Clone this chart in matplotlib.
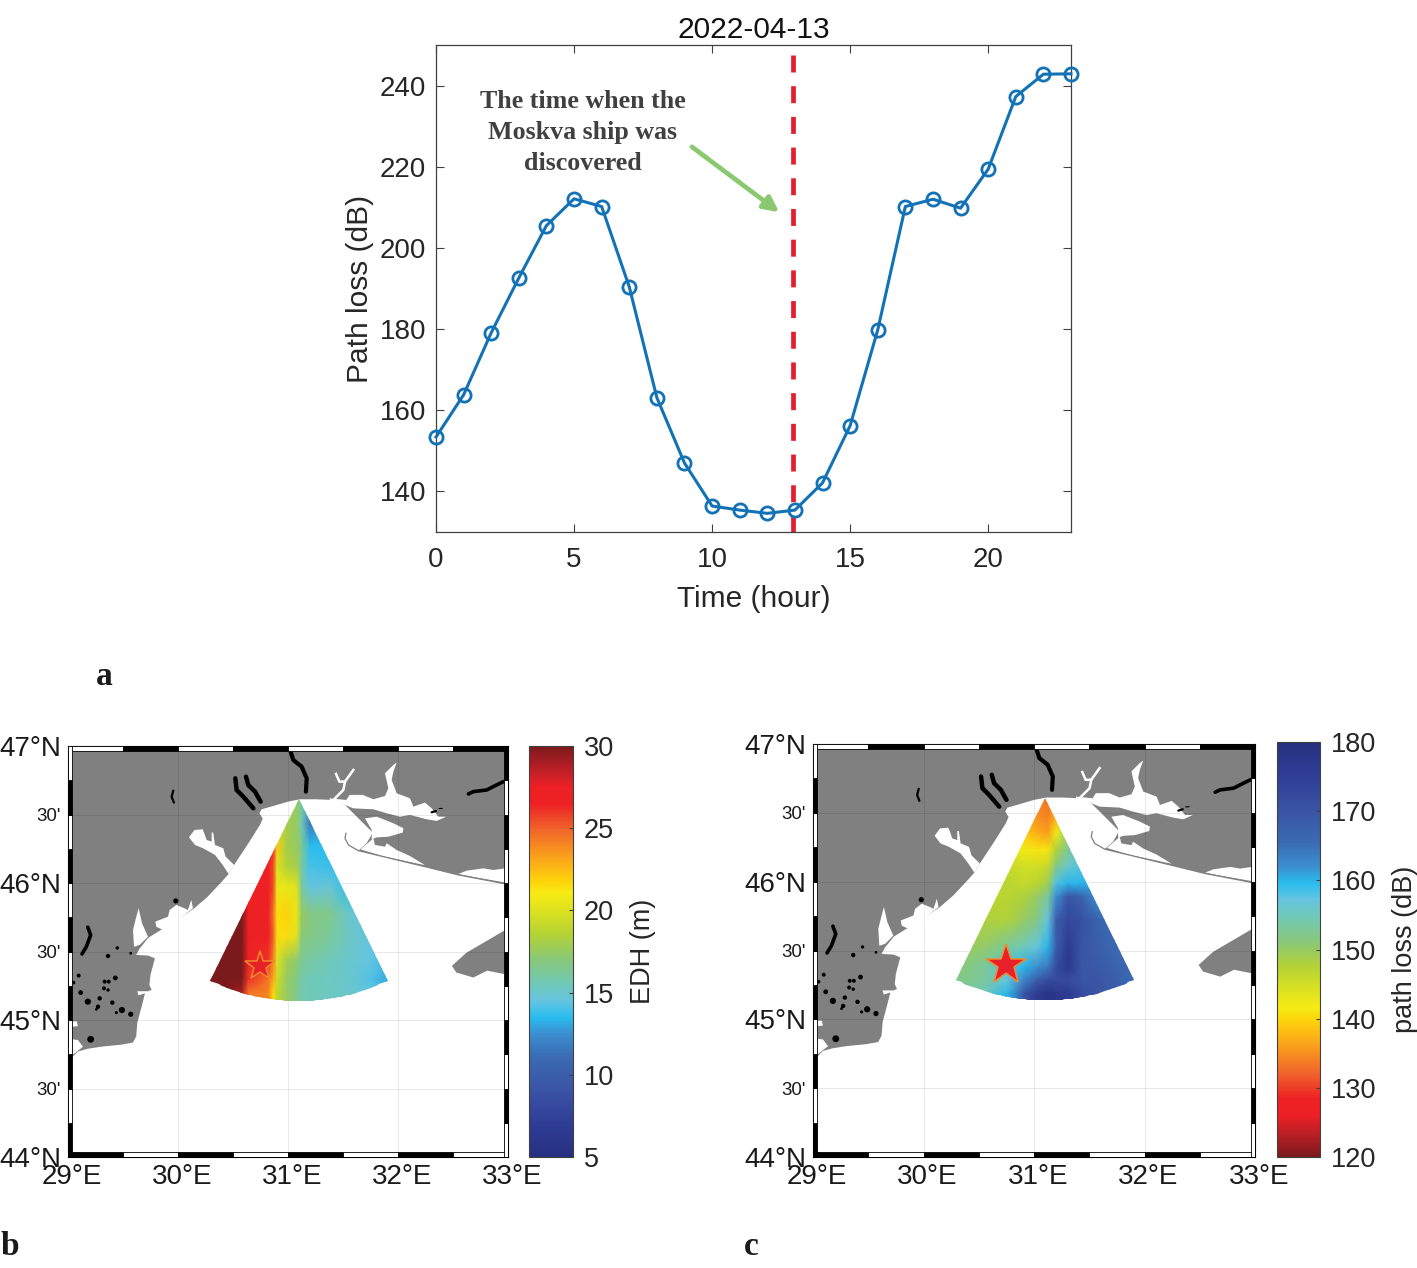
import numpy as np
import matplotlib
matplotlib.use('Agg')
import matplotlib.pyplot as plt
from matplotlib.colors import LinearSegmentedColormap
from matplotlib.patches import Polygon, Rectangle
from matplotlib.cm import ScalarMappable
from matplotlib.colors import Normalize
from matplotlib.transforms import ScaledTranslation

plt.rcParams['font.family'] = ['Liberation Sans', 'DejaVu Sans']

W, H = 1417, 1268

# panel a
hours = list(range(24))
path_loss = [153.4, 163.8, 179.1, 192.6, 205.5, 212.1, 210.2, 190.4, 163.1, 147.0, 136.4, 135.4,
             134.6, 135.4, 142.1, 156.2, 179.8, 210.2, 212.0, 209.8, 219.4, 237.3, 242.8, 242.9]
found_hour = 12.93

# land outline, lon/lat
land_lon = [29.0, 29.04, 29.09, 29.18, 29.30, 29.485, 29.59, 29.62, 29.63, 29.67, 29.70, 29.64, 29.63, 29.73, 29.76,
            29.74, 29.75, 29.79, 29.73, 29.62, 29.65, 29.73, 29.85, 29.97, 30.14, 30.27, 30.41, 30.46, 30.51, 30.64,
            30.745, 30.77, 30.74, 30.76, 30.866, 31.0, 31.109, 31.26, 31.41, 31.518, 31.77, 31.715, 31.64, 32.246,
            32.549, 33.0, 33.0, 29.0]
land_lat = [44.72, 44.73, 44.77, 44.79, 44.805, 44.82, 44.835, 44.88, 44.98, 45.10, 45.195, 45.18, 45.21, 45.21, 45.22,
            45.255, 45.33, 45.45, 45.47, 45.475, 45.52, 45.60, 45.66, 45.72, 45.81, 45.90, 46.02, 46.066, 46.132, 46.29,
            46.424, 46.47, 46.509, 46.538, 46.562, 46.594, 46.611, 46.611, 46.606, 46.57, 46.368, 46.29, 46.236, 46.119,
            46.059, 45.99, 47.0, 47.0]

crimea_lon = [33.0, 32.96, 32.78, 32.62, 32.49, 32.53, 32.685, 32.81, 33.0]
crimea_lat = [45.66, 45.65, 45.565, 45.49, 45.395, 45.347, 45.31, 45.36, 45.33]

# white water bodies on the land, lon/lat
water = [
    ([30.10, 30.15, 30.224, 30.239, 30.26, 30.306, 30.306, 30.32, 30.336, 30.412, 30.433, 30.51, 30.46, 30.406, 30.336, 30.23, 30.154],
     [46.334, 46.387, 46.392, 46.363, 46.314, 46.302, 46.368, 46.368, 46.278, 46.253, 46.192, 46.132, 46.066, 46.132, 46.205, 46.253, 46.278]),
    ([29.642, 29.673, 29.727, 29.652, 29.60, 29.591, 29.621],
     [45.815, 45.706, 45.608, 45.548, 45.535, 45.657, 45.754]),
    ([29.794, 29.909, 29.924, 29.985, 30.06, 30.09, 30.121, 30.136, 30.0, 29.864, 29.803],
     [45.718, 45.754, 45.803, 45.84, 45.815, 45.803, 45.876, 45.815, 45.73, 45.657, 45.681]),
    ([31.38, 31.53, 31.56, 31.68, 31.776, 31.882, 31.912, 31.882, 31.958, 31.988, 31.958, 31.942, 31.988, 32.109, 32.14,
      32.246, 32.306, 32.367, 32.437, 32.352, 32.261, 32.109, 32.018, 31.897, 31.776, 31.594, 31.518, 31.38],
     [46.618, 46.606, 46.643, 46.643, 46.611, 46.635, 46.691, 46.801, 46.862, 46.879, 46.813, 46.752, 46.655, 46.618, 46.557,
      46.587, 46.545, 46.484, 46.484, 46.453, 46.465, 46.497, 46.484, 46.509, 46.538, 46.545, 46.57, 46.606]),
    ([31.70, 31.806, 31.958, 32.049, 32.043, 31.912, 31.806, 31.761, 31.761],
     [46.472, 46.484, 46.436, 46.40, 46.368, 46.338, 46.333, 46.319, 46.387]),
    ([31.68, 31.776, 31.79, 31.882, 31.897, 31.988, 32.109, 32.246, 31.867, 31.66],
     [46.26, 46.326, 46.278, 46.265, 46.29, 46.241, 46.197, 46.13, 46.195, 46.245]),
    ([32.549, 32.624, 32.776, 32.867, 33.0, 33.0, 32.715],
     [46.066, 46.09, 46.107, 46.095, 46.11, 46.0, 46.04]),
    ([29.042, 29.09, 29.136, 29.09, 29.042],
     [44.859, 44.854, 44.805, 44.776, 44.745]),
    ([29.02, 29.08, 29.09, 29.03], [44.99, 44.99, 44.955, 44.95]),
]
creek_lon = [[31.437, 31.467, 31.518, 31.594], [31.518, 31.503, 31.427]]
creek_lat = [[46.796, 46.74, 46.74, 46.825], [46.74, 46.679, 46.618]]

spit_lon = [31.527, 31.518, 31.549, 31.64, 32.246, 32.549, 33.0]
spit_lat = [46.363, 46.326, 46.278, 46.236, 46.119, 46.059, 45.99]

# black lakes
lakes = [
    ([29.957, 29.942, 29.963], [46.674, 46.63, 46.587], 1.6),
    ([30.521, 30.533, 30.594, 30.685], [46.764, 46.679, 46.63, 46.545], 3.2),
    ([30.618, 30.639, 30.70, 30.751], [46.776, 46.715, 46.667, 46.594], 3.2),
    ([31.024, 31.048, 31.124, 31.17, 31.163], [46.959, 46.898, 46.849, 46.764, 46.667], 3.0),
    ([32.64, 32.685, 32.806, 32.897, 32.958], [46.65, 46.667, 46.679, 46.716, 46.74], 2.6),
    ([32.306, 32.346], [46.516, 46.526], 1.6),
    ([32.373, 32.403], [46.543, 46.545], 0.8),
    ([29.18, 29.206, 29.167, 29.127], [45.677, 45.62, 45.535, 45.482], 2.6),
]
pond_lon = [29.364, 29.448, 29.097, 29.43, 29.37, 29.333, 29.327, 29.364, 29.115, 29.18, 29.288, 29.273, 29.403, 29.49,
            29.44, 29.57, 29.206, 29.57, 29.258, 29.05, 29.98]
pond_lat = [45.467, 45.526, 45.324, 45.307, 45.28, 45.28, 45.231, 45.219, 45.20, 45.134, 45.158, 45.097, 45.127, 45.073,
            45.054, 45.042, 44.859, 45.487, 45.078, 45.273, 45.869]
pond_size = [10, 6, 8, 12, 8, 8, 8, 6, 12, 20, 10, 10, 10, 20, 5, 14, 24, 4, 4, 7, 14]

# sector
apex_lon, apex_lat = 31.10, 46.61
reach_lon, reach_lat = 1.833, 1.472
half_angle = 26.1

# EDH field, rows = lat, columns = lon
edh_lon = [30.29, 30.44, 30.58, 30.64, 30.82, 30.867, 30.90, 30.988, 31.08, 31.124, 31.2, 31.38, 31.56, 31.745, 31.93]
edh_lat = [46.606, 46.436, 46.265, 46.12, 45.973, 45.779, 45.608, 45.438, 45.292, 45.195, 45.122]
edh = [
    [28.0, 27.0, 27.0, 26.0, 26.0, 24.0, 20.0, 18.0, 17.5, 16.0, 13.0, 13.0, 13.0, 13.0, 13.0],
    [28.0, 27.0, 27.0, 26.0, 26.0, 24.0, 20.0, 18.0, 17.5, 15.5, 11.5, 13.5, 13.5, 13.5, 13.5],
    [28.0, 27.0, 27.0, 27.0, 27.0, 26.0, 22.0, 18.0, 17.5, 16.5, 13.5, 13.5, 14.0, 14.0, 14.0],
    [28.0, 28.0, 28.0, 27.0, 26.5, 25.5, 20.0, 18.5, 18.0, 16.0, 14.0, 13.8, 13.5, 14.0, 14.0],
    [28.0, 28.0, 27.5, 26.8, 26.5, 25.5, 20.5, 20.5, 20.0, 16.0, 14.5, 14.8, 13.5, 14.0, 14.0],
    [30.0, 30.0, 30.0, 27.0, 26.5, 24.5, 21.5, 21.8, 20.5, 17.5, 16.8, 16.5, 15.0, 14.5, 14.0],
    [30.0, 30.0, 30.0, 27.0, 26.5, 25.0, 21.5, 21.5, 20.0, 17.0, 16.8, 16.2, 15.2, 14.5, 14.0],
    [30.0, 30.0, 30.0, 27.0, 26.0, 24.0, 20.0, 18.0, 17.3, 16.3, 16.0, 15.5, 15.0, 14.5, 13.8],
    [30.0, 30.0, 30.0, 26.0, 24.5, 23.0, 19.5, 17.5, 16.8, 15.8, 15.5, 15.3, 15.0, 14.2, 13.0],
    [30.0, 30.0, 29.0, 24.5, 24.0, 21.5, 19.0, 17.5, 16.5, 15.8, 15.5, 15.3, 15.0, 14.5, 13.8],
    [30.0, 30.0, 29.0, 24.5, 24.0, 21.5, 19.0, 17.5, 16.5, 15.8, 15.5, 15.3, 15.0, 14.5, 13.8],
]

# path loss field
pl_lon = [30.297, 30.55, 30.76, 30.91, 31.03, 31.125, 31.2, 31.31, 31.43, 31.58, 31.73, 31.93]
pl_lat = [46.623, 46.473, 46.352, 46.23, 46.11, 45.989, 45.892, 45.722, 45.528, 45.383, 45.286, 45.19, 45.13]
pl = [
    [135, 135, 135, 135, 134, 133, 134, 137, 145, 150, 150, 150],
    [136, 136, 136, 136, 135, 134, 137, 142, 150, 150, 150, 150],
    [139, 139, 139, 139, 137, 136, 142, 150, 153, 153, 153, 153],
    [143, 143, 143, 142, 141, 141, 148, 153, 155, 155, 155, 155],
    [146, 146, 146, 145, 145, 146, 152, 156, 158, 158, 158, 158],
    [147, 147, 147, 146, 147, 149, 158, 160, 160, 161, 161, 161],
    [147, 147, 147, 148, 150, 153, 162, 170, 167, 162, 161, 161],
    [149, 148, 148, 150, 152, 157, 168, 173, 171, 167, 165, 164],
    [150, 150, 153, 155, 157, 160, 168, 176, 170, 168, 166, 165],
    [151, 153, 158, 160, 162, 164, 172, 177, 170, 169, 167, 166],
    [152, 153, 157, 163, 168, 172, 172, 172, 170, 170, 168, 165],
    [153, 155, 160, 170, 176, 178, 177, 176, 172, 170, 168, 166],
    [153, 155, 160, 170, 176, 178, 177, 176, 172, 170, 168, 166],
]

cmap_stops = [(0.0, '#26307f'), (0.08, '#2f3d95'), (0.16, '#3a53a4'), (0.24, '#3a6ab2'), (0.30, '#3b8fd0'),
              (0.34, '#29bdee'), (0.38, '#66c4e0'), (0.42, '#6fc9b8'), (0.48, '#88c87a'), (0.54, '#b3d235'),
              (0.60, '#dce21f'), (0.64, '#f6eb14'), (0.672, '#fdd30b'), (0.72, '#fbab18'), (0.80, '#f0622a'),
              (0.86, '#ed2024'), (0.90, '#ed2024'), (0.94, '#c01f26'), (1.0, '#7b1a1c')]
edh_cmap = LinearSegmentedColormap.from_list('edh', cmap_stops, N=512)
pl_cmap = edh_cmap.reversed()

lon_ticks = [29, 30, 31, 32, 33]
lon_labels = ['29°E', '30°E', '31°E', '32°E', '33°E']
lat_ticks = [44, 44.5, 45, 45.5, 46, 46.5, 47]
lat_labels = ['44°N', "30'", '45°N', "30'", '46°N', "30'", '47°N']

fig = plt.figure(figsize=(W / 100, H / 100), dpi=100)


def box(x0, y0, x1, y1):
    return [x0 / W, 1 - y1 / H, (x1 - x0) / W, (y1 - y0) / H]


# panel a ---------------------------------------------------------
ax = fig.add_axes(box(436, 45, 1071, 532))
ax.plot(hours, path_loss, color='#1272b5', lw=2.2, marker='o', ms=9.5, mfc='none', mew=2.0, clip_on=False, zorder=3)
ax.plot([found_hour, found_hour], [247.5, 130], color='#e41f2d', lw=3.4, dashes=(3.6, 2.9), zorder=2)
ax.set_xlim(0, 23)
ax.set_ylim(130, 250)
ax.set_xticks([0, 5, 10, 15, 20])
ax.set_yticks([140, 160, 180, 200, 220, 240])
ax.tick_params(direction='in', top=True, right=True, length=6, width=0.8, color='#404040',
               labelsize=20, labelcolor='#262626')
ax.tick_params(axis='x', pad=11)
ax.tick_params(axis='y', pad=7)
for s in ax.spines.values():
    s.set_linewidth(0.9)
    s.set_color('#404040')
ax.set_xlabel('Time (hour)', fontsize=21.5, color='#262626', labelpad=8.5)
ax.set_ylabel('Path loss (dB)', fontsize=21.5, color='#262626', labelpad=4)
ax.set_title('2022-04-13', fontsize=21.5, color='#111111', pad=5)
for txt, yy in zip(['The time when the', 'Moskva ship was', 'discovered'], [236.2, 228.5, 220.9]):
    ax.text(5.32, yy, txt, family='Liberation Serif', weight='bold', fontsize=18.7, color='#404040',
            ha='center', va='center')
ax.annotate('', xy=(12.43, 208.8), xytext=(9.27, 224.9),
            arrowprops=dict(arrowstyle='-|>,head_length=0.9,head_width=0.45', color='#8cc870', lw=3.4,
                            shrinkA=0, shrinkB=0))


def draw_map(rect, cbar_rect, field_lon, field_lat, field, cmap, vmin, vmax, cticks, clabel, star_ms):
    m = fig.add_axes(box(*rect))
    m.set_xlim(29, 33)
    m.set_ylim(44, 47)
    m.fill(land_lon, land_lat, color='#808080', lw=0, zorder=1)
    m.fill(crimea_lon, crimea_lat, color='#808080', lw=0, zorder=1)
    for wx, wy in water:
        m.fill(wx, wy, color='white', lw=0, zorder=2)
    for cx, cy in zip(creek_lon, creek_lat):
        m.plot(cx, cy, color='white', lw=1.8, zorder=2)
    m.plot(spit_lon, spit_lat, color='#808080', lw=0.9, zorder=2.5)
    for lx, ly, lw in lakes:
        m.plot(lx, ly, color='black', lw=lw, solid_capstyle='round', zorder=3)
    m.scatter(pond_lon, pond_lat, s=pond_size, color='black', lw=0, zorder=3)

    # grid lines
    for lo in lon_ticks[1:-1]:
        m.plot([lo, lo], [44, 47], color='black', alpha=0.1, lw=0.6, zorder=4)
    for la in lat_ticks[1:-1]:
        m.plot([29, 33], [la, la], color='black', alpha=0.1, lw=0.6, zorder=4)

    # sector field, clipped by the sector outline
    ang = np.radians(np.linspace(-half_angle, half_angle, 60))
    sx = [apex_lon] + list(apex_lon + reach_lon * np.sin(ang))
    sy = [apex_lat] + list(apex_lat - reach_lat * np.cos(ang))
    clip = Polygon(np.column_stack([sx, sy]), closed=True, transform=m.transData, fc='none', ec='none')
    m.add_patch(clip)
    mesh = m.pcolormesh(field_lon, field_lat, np.array(field, dtype=float), cmap=cmap, vmin=vmin, vmax=vmax,
                        shading='gouraud', zorder=5)
    mesh.set_clip_path(clip)
    m.plot([30.745], [45.395], marker='*', ms=star_ms, mfc='#e8202a', mec='#f08a2c', mew=1.1, ls='none', zorder=6)

    # fancy frame
    fx, fy = 0.04, 0.033
    for i in range(8):
        x0 = 29 + i * 0.5
        m.add_patch(Rectangle((x0, 44), 0.5, fy, fc='black' if i % 2 == 0 else 'white', ec='black', lw=0.6, zorder=7))
        m.add_patch(Rectangle((x0, 47 - fy), 0.5, fy, fc='white' if i % 2 == 0 else 'black', ec='black', lw=0.6, zorder=7))
    for i in range(12):
        y0 = 44 + i * 0.25
        m.add_patch(Rectangle((29, y0), fx, 0.25, fc='black' if i % 2 == 0 else 'white', ec='black', lw=0.6, zorder=7))
        m.add_patch(Rectangle((33 - fx, y0), fx, 0.25, fc='white' if i % 2 == 0 else 'black', ec='black', lw=0.6, zorder=7))

    m.set_xticks(lon_ticks)
    m.set_xticklabels(lon_labels)
    m.set_yticks(lat_ticks)
    m.set_yticklabels(lat_labels)
    m.tick_params(length=0, labelsize=20, labelcolor='#1a1a1a')
    m.tick_params(axis='x', pad=5)
    m.tick_params(axis='y', pad=5)
    for lab in m.get_xticklabels():
        lab.set_transform(lab.get_transform() + ScaledTranslation(4 / 100, 0, fig.dpi_scale_trans))
    for lab in m.get_yticklabels():
        if lab.get_text().startswith('30'):
            lab.set_fontsize(13.5)
    for s in m.spines.values():
        s.set_linewidth(0.8)

    cax = fig.add_axes(box(*cbar_rect))
    cb = fig.colorbar(ScalarMappable(Normalize(vmin, vmax), cmap), cax=cax)
    cb.set_ticks(cticks)
    cb.ax.tick_params(direction='in', length=3, width=0.8, color='#404040', labelsize=19.5,
                      labelcolor='#262626', pad=8)
    cb.outline.set_linewidth(0.8)
    cb.outline.set_edgecolor('#404040')
    cb.set_label(clabel, fontsize=19.5, color='#262626', labelpad=11)


draw_map((68, 746, 508, 1157), (529, 746, 573, 1157), edh_lon, edh_lat, edh, edh_cmap, 5, 30,
         [5, 10, 15, 20, 25, 30], 'EDH (m)', 22)
draw_map((813, 744, 1255, 1157), (1277, 742, 1320, 1157), pl_lon, pl_lat, pl, pl_cmap, 120, 180,
         [120, 130, 140, 150, 160, 170, 180], 'path loss (dB)', 30)

for letter, px, py in [('a', 96, 685), ('b', 1, 1255), ('c', 744, 1255)]:
    fig.text(px / W, 1 - py / H, letter, family='Liberation Serif', weight='bold', fontsize=24, color='#1a1a1a')

fig.savefig('out.png', dpi=100)
